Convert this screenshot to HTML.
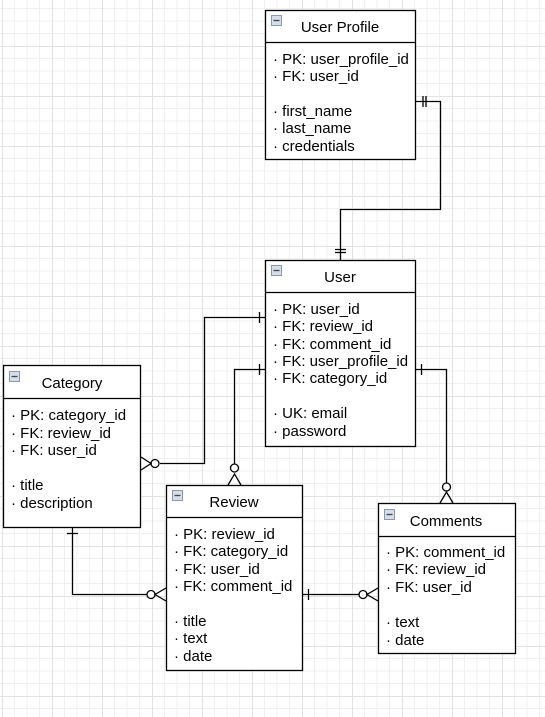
<!DOCTYPE html>
<html><head><meta charset="utf-8"><style>
html,body{margin:0;padding:0;background:#fff}
svg{display:block}
text{font-family:"Liberation Sans",Arial,sans-serif;font-size:15px;fill:#000}
</style></head><body>
<svg width="545" height="717" viewBox="0 0 545 717" xmlns="http://www.w3.org/2000/svg">
<defs>
<pattern id="g" x="2" y="-4" width="50" height="50" patternUnits="userSpaceOnUse">
<path d="M12.5 0V50M25 0V50M37.5 0V50M0 12.5H50M0 25H50M0 37.5H50" stroke="#f0f0f0" stroke-width="1" fill="none"/>
<path d="M0.5 0V50M0 0.5H50" stroke="#e2e2e2" stroke-width="1" fill="none"/>
</pattern>
</defs>
<rect width="545" height="717" fill="url(#g)"/>
<g fill="#fff" stroke="#000" stroke-width="1.3">
<rect x="265.5" y="10.5" width="150" height="149"/><line x1="265" y1="42.5" x2="416" y2="42.5"/>
<rect x="265.5" y="260.5" width="150" height="186"/><line x1="265" y1="292.5" x2="416" y2="292.5"/>
<rect x="3.5" y="365.5" width="137" height="162"/><line x1="3" y1="398.5" x2="141" y2="398.5"/>
<rect x="166.5" y="485.5" width="136" height="185"/><line x1="166" y1="517.5" x2="303" y2="517.5"/>
<rect x="378.5" y="503.5" width="137" height="150"/><line x1="378" y1="536.5" x2="516" y2="536.5"/>
</g>
<g fill="#d6dde6" stroke="#8a9aae" stroke-width="1">
<rect x="271.5" y="15.5" width="10" height="10"/><rect x="271.5" y="265.5" width="10" height="10"/>
<rect x="9.5" y="371.5" width="10" height="10"/><rect x="172.5" y="490.5" width="10" height="10"/>
<rect x="384.5" y="509.5" width="10" height="10"/>
</g>
<g stroke="#445" stroke-width="1.3">
<line x1="273.5" y1="20.5" x2="279.5" y2="20.5"/><line x1="273.5" y1="270.5" x2="279.5" y2="270.5"/>
<line x1="11.5" y1="376.5" x2="17.5" y2="376.5"/><line x1="174.5" y1="495.5" x2="180.5" y2="495.5"/>
<line x1="386.5" y1="514.5" x2="392.5" y2="514.5"/>
</g>
<g text-anchor="middle">
<text x="340" y="32">User Profile</text>
<text x="340" y="282">User</text>
<text x="72" y="388">Category</text>
<text x="234" y="507">Review</text>
<text x="446" y="526">Comments</text>
</g>
<text x="273" y="64">· PK: user_profile_id</text>
<text x="273" y="81">· FK: user_id</text>
<text x="273" y="116">· first_name</text>
<text x="273" y="133">· last_name</text>
<text x="273" y="151">· credentials</text>

<text x="273" y="314">· PK: user_id</text>
<text x="273" y="331">· FK: review_id</text>
<text x="273" y="349">· FK: comment_id</text>
<text x="273" y="366">· FK: user_profile_id</text>
<text x="273" y="383">· FK: category_id</text>
<text x="273" y="418">· UK: email</text>
<text x="273" y="436">· password</text>

<text x="11" y="420">· PK: category_id</text>
<text x="11" y="438">· FK: review_id</text>
<text x="11" y="455">· FK: user_id</text>
<text x="11" y="490">· title</text>
<text x="11" y="508">· description</text>

<text x="174" y="539">· PK: review_id</text>
<text x="174" y="556">· FK: category_id</text>
<text x="174" y="574">· FK: user_id</text>
<text x="174" y="591">· FK: comment_id</text>
<text x="174" y="626">· title</text>
<text x="174" y="643">· text</text>
<text x="174" y="661">· date</text>

<text x="386" y="557">· PK: comment_id</text>
<text x="386" y="574">· FK: review_id</text>
<text x="386" y="592">· FK: user_id</text>
<text x="386" y="627">· text</text>
<text x="386" y="645">· date</text>

<g fill="none" stroke="#000" stroke-width="1.3">
<path d="M416 101.5H440.5V209.5H340.5V260"/>
<path d="M423 96V107M426 96V107M335 249.5H346M335 252.5H346"/>
<path d="M160 463.5H204.5V317.5H265"/>
<path d="M259.5 312V323"/>
<circle cx="155" cy="463.5" r="4" fill="#fff"/>
<path d="M141 457L151 463.5L141 470"/>
<path d="M265 369.5H234.5V464"/>
<path d="M259.5 364V375"/>
<circle cx="234.5" cy="468" r="4" fill="#fff"/>
<path d="M228 485L234.5 474L241 485"/>
<path d="M416 369.5H446.5V483"/>
<path d="M421.5 364V375"/>
<circle cx="446.5" cy="487" r="4" fill="#fff"/>
<path d="M440 503L446.5 492L453 503"/>
<path d="M72.5 528V594.5H147"/>
<path d="M67 533.5H78"/>
<circle cx="151" cy="594.5" r="4" fill="#fff"/>
<path d="M166 588L155 594.5L166 601"/>
<path d="M303 594.5H359"/>
<path d="M308.5 589V600"/>
<circle cx="363" cy="594.5" r="4" fill="#fff"/>
<path d="M378 588L367 594.5L378 601"/>
</g>
</svg>
</body></html>
